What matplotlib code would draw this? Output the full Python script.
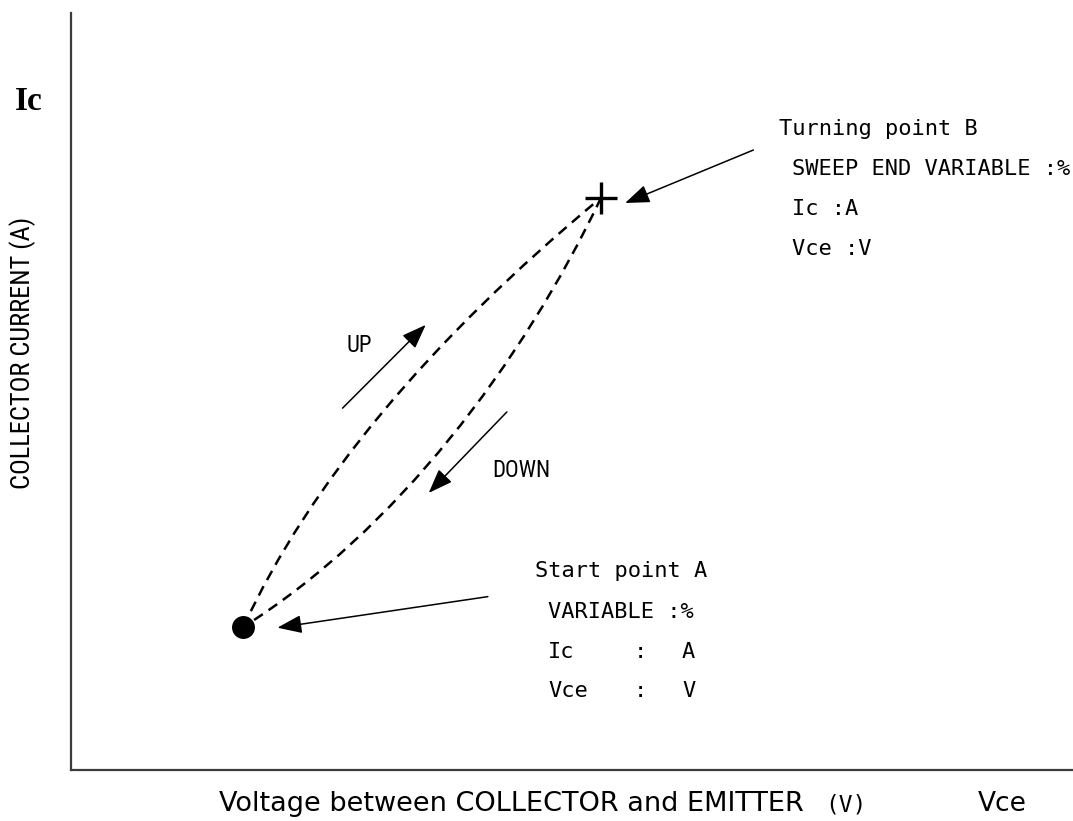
import matplotlib
matplotlib.use('Agg')
import matplotlib.pyplot as plt
from matplotlib.path import Path
from matplotlib.patches import PathPatch
from matplotlib import font_manager

# ---------------- data (axis units, 0-100 on both axes) ----------------
start_point = (17.2, 18.9)      # point A  (Vce, Ic)
turn_point = (52.9, 75.6)       # point B  (Vce, Ic)
up_controls = [(23.8, 37.8), (35.7, 56.7)]     # UP sweep curve shape (A -> B)
down_controls = [(44.95, 53.5), (32.4, 31.6)]  # DOWN sweep curve shape (B -> A)

label_start = ["Start point A", "VARIABLE :%", "Ic", "Vce"]
label_start_units = ["A", "V"]
label_turn = ["Turning point B", "SWEEP END VARIABLE :%", "Ic :A", "Vce :V"]
x_label = "Voltage between COLLECTOR and EMITTER"
x_unit = "(V)"
x_symbol = "Vce"
y_label = "COLLECTOR CURRENT (A)"
y_symbol = "Ic"

# ---------------- fonts ----------------
names = {f.name for f in font_manager.fontManager.ttflist}
def pick(*fams):
    for f in fams:
        if f in names:
            return f
    return 'DejaVu Sans'
narrow = pick('Liberation Sans Narrow', 'Roboto Condensed', 'Liberation Sans')
nscale = 1.0 if narrow in ('Liberation Sans Narrow', 'Roboto Condensed') else 0.82
mono = 'DejaVu Sans Mono'
serif = pick('Liberation Serif', 'DejaVu Serif')

W, H = 1073, 821
fig = plt.figure(figsize=(W / 100, H / 100), dpi=100)
ax = fig.add_axes([71 / W, 51 / H, (W - 71) / W, (770 - 13) / H])
ax.set_xlim(0, 100)
ax.set_ylim(0, 100)
for s in ('top', 'right'):
    ax.spines[s].set_visible(False)
for s in ('left', 'bottom'):
    ax.spines[s].set_linewidth(1.6)
    ax.spines[s].set_color('#3c3c3c')
ax.set_xticks([])
ax.set_yticks([])

# ---------------- curves ----------------
dash = (0, (4.2, 2.8))
up_path = Path([start_point, up_controls[0], up_controls[1], turn_point],
               [Path.MOVETO, Path.CURVE4, Path.CURVE4, Path.CURVE4])
down_path = Path([turn_point, down_controls[0], down_controls[1], start_point],
                 [Path.MOVETO, Path.CURVE4, Path.CURVE4, Path.CURVE4])
for p in (up_path, down_path):
    ax.add_patch(PathPatch(p, fill=False, edgecolor='black', lw=1.8,
                           linestyle=dash, transform=ax.transData))

ax.plot([start_point[0]], [start_point[1]], 'o', color='black', markersize=15.5, zorder=5)
ax.plot([turn_point[0]], [turn_point[1]], '+', color='black', markersize=23,
        markeredgewidth=2.4, zorder=5)

# ---------------- arrows ----------------
aprops = dict(arrowstyle='-|>,head_length=0.75,head_width=0.28', color='black',
              lw=1.1, mutation_scale=20, shrinkA=0, shrinkB=0)
ax.annotate('', xy=(55.3, 74.9), xytext=(68.1, 81.9), arrowprops=aprops)
ax.annotate('', xy=(20.6, 18.8), xytext=(41.6, 22.9), arrowprops=aprops)
ax.annotate('', xy=(35.4, 58.8), xytext=(27.1, 47.8), arrowprops=aprops)
ax.annotate('', xy=(35.7, 36.6), xytext=(43.5, 47.3), arrowprops=aprops)

# ---------------- texts ----------------
def ftext(x, y, s, **kw):
    kw.setdefault('va', 'baseline')
    fig.text(x / W, 1 - y / H, s, **kw)

mono_fs = 15.8
ftext(779, 135, label_turn[0], family=mono, fontsize=mono_fs)
ftext(792, 175, label_turn[1], family=mono, fontsize=mono_fs)
ftext(792, 215, label_turn[2], family=mono, fontsize=mono_fs)
ftext(792, 255, label_turn[3], family=mono, fontsize=mono_fs)

ftext(535, 577, label_start[0], family=mono, fontsize=mono_fs)
ftext(548, 618, label_start[1], family=mono, fontsize=mono_fs)
ftext(548, 658, label_start[2], family=mono, fontsize=mono_fs)
ftext(548, 697, label_start[3], family=mono, fontsize=mono_fs)
ftext(640, 658, ":", family=mono, fontsize=mono_fs, ha='center')
ftext(640, 697, ":", family=mono, fontsize=mono_fs, ha='center')
ftext(682, 658, label_start_units[0], family=mono, fontsize=mono_fs)
ftext(682, 697, label_start_units[1], family=mono, fontsize=mono_fs)

ftext(346, 352, "UP", family=narrow, fontsize=16.5 * nscale)
ftext(492, 477, "DOWN", family=narrow, fontsize=16.5 * nscale)

ftext(15, 110, y_symbol, family=serif, fontsize=24, weight='bold')
ftext(23, 353, y_label, family=narrow, fontsize=19 * nscale, rotation=90,
      ha='center', va='center')

ftext(511, 811, x_label, family='DejaVu Sans', fontsize=19.5, ha='center')
ftext(825, 811, x_unit, family=mono, fontsize=16.5)
ftext(978, 811, x_symbol, family='DejaVu Sans', fontsize=19)

fig.savefig('out.png', dpi=100)
